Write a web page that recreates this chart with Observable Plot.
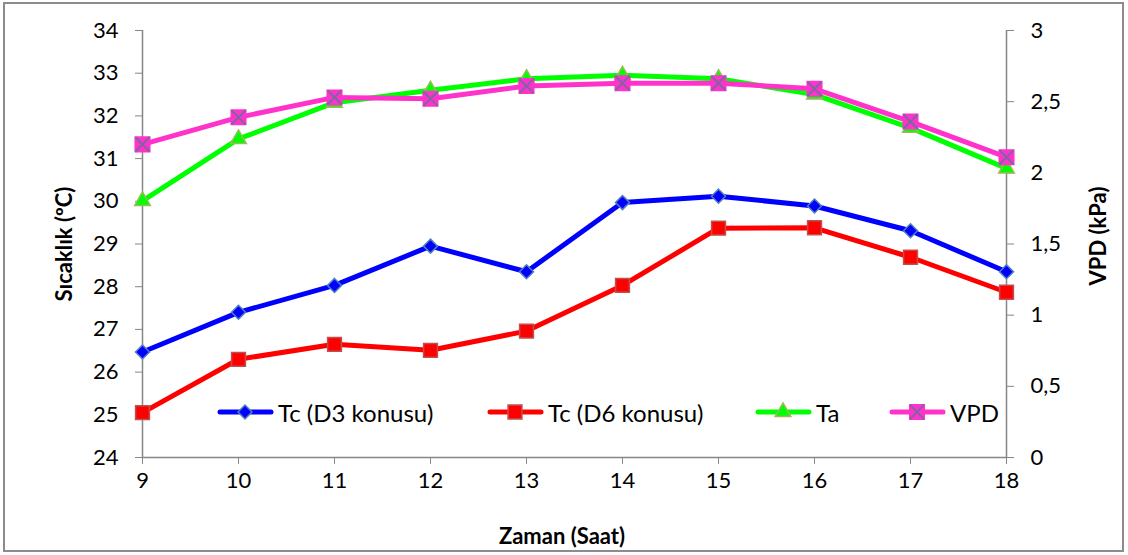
<!DOCTYPE html>
<html><head><meta charset="utf-8">
<script src="https://cdn.jsdelivr.net/npm/d3@7"></script>
<script src="https://cdn.jsdelivr.net/npm/@observablehq/plot@0.6"></script>
<style>
html,body{margin:0;padding:0;background:#fff;}
#wrap{position:relative;width:1128px;height:555px;font-family:Lato,"Open Sans",sans-serif;color:#000;}
#border{position:absolute;left:3px;top:2px;width:1121px;height:550px;border:2px solid #8c8c8c;box-sizing:border-box;pointer-events:none;}
#chart{position:absolute;left:0;top:0;}
.title{position:absolute;font-weight:bold;font-size:22px;white-space:nowrap;}
#legend{position:absolute;left:0;top:399px;width:1128px;height:26px;font-size:24px;}
.item{position:absolute;top:0;display:flex;align-items:center;height:26px;}
.item svg{display:block;margin-right:4px;}
</style>
</head><body>
<div id="wrap">
  <div id="chart"></div>
  <div id="border"></div>
  <div class="title" id="xt" style="left:562px;top:535px;transform:translate(-50%,-50%);">Zaman (Saat)</div>
  <div class="title" id="yl" style="left:63px;top:244px;transform:translate(-50%,-50%) rotate(-90deg);">Sıcaklık (ºC)</div>
  <div class="title" id="yr" style="left:1097px;top:236px;transform:translate(-50%,-50%) rotate(-90deg);">VPD (kPa)</div>
  <div id="legend"></div>
</div>
<script>
// ---- data ----
const hours = [9, 10, 11, 12, 13, 14, 15, 16, 17, 18];
const tcD3 = [26.47, 27.40, 28.03, 28.95, 28.35, 29.97, 30.12, 29.89, 29.31, 28.35];
const tcD6 = [25.05, 26.30, 26.65, 26.51, 26.96, 28.03, 29.37, 29.38, 28.69, 27.87];
const ta   = [30.01, 31.46, 32.31, 32.60, 32.87, 32.95, 32.87, 32.50, 31.72, 30.77];
const vpd  = [2.20, 2.39, 2.53, 2.52, 2.61, 2.63, 2.63, 2.59, 2.36, 2.11];
const leftTicks = [24, 25, 26, 27, 28, 29, 30, 31, 32, 33, 34];
const rightTicks = [0, 0.5, 1, 1.5, 2, 2.5, 3];
const seriesNames = ["Tc (D3 konusu)", "Tc (D6 konusu)", "Ta", "VPD"];

// secondary axis (0–3 kPa) mapped onto the primary (24–34 °C)
const toLeft = v => 24 + v * 10 / 3;
const fmtRight = d => String(+((d - 24) * 0.3).toFixed(1)).replace(".", ",");

const rows = (vals, f = d => d) => hours.map((h, i) => ({h, v: f(vals[i])}));
const dD3 = rows(tcD3), dD6 = rows(tcD6), dTa = rows(ta), dV = rows(vpd, toLeft);

const styles = [
  {line: "#0000ff", fill: "#0000ff", stroke: "#4f81bd", symbol: "diamond2", r: 6.3},
  {line: "#ff0000", fill: "#ff0000", stroke: "#c0504d", symbol: "square", r: 7.8},
  {line: "#00ff00", fill: "#00ff00", stroke: "#9bbb59", symbol: "triangle", r: 5.8},
  {line: "#ff33cc", fill: "#ff33cc", stroke: "#ff33cc", symbol: "square", r: 8.2, x: "#8064a2"}
];
const data = [dD3, dD6, dTa, dV];

const axisGray = "#868686";
const marks = [
  Plot.ruleY([24], {stroke: axisGray, strokeWidth: 1.5}),
  Plot.ruleX([9], {stroke: axisGray, strokeWidth: 1.5}),
  Plot.ruleX([18], {stroke: axisGray, strokeWidth: 1.5}),
  Plot.axisX({ticks: hours, tickSize: 7, tickPadding: 8, stroke: axisGray, fill: "#000", label: null, fontSize: 22, tickFormat: d => String(d)}),
  Plot.axisY({ticks: leftTicks, tickSize: 7, tickPadding: 17, stroke: axisGray, fill: "#000", label: null, fontSize: 22, tickFormat: d => String(d)}),
  Plot.axisY({anchor: "right", ticks: rightTicks.map(toLeft), tickSize: 7, tickPadding: 17, stroke: axisGray, fill: "#000", label: null, fontSize: 22, tickFormat: fmtRight})
];
data.forEach((d, i) => {
  const s = styles[i];
  marks.push(Plot.line(d, {x: "h", y: "v", stroke: s.line, strokeWidth: 5, strokeLinejoin: "round", strokeLinecap: "round"}));
  marks.push(Plot.dot(d, {x: "h", y: "v", symbol: s.symbol, r: s.r, fill: s.fill, stroke: s.stroke, strokeWidth: 1.5}));
  if (s.x) marks.push(Plot.dot(d, {x: "h", y: "v", symbol: "times", r: 6.5, stroke: s.x, strokeWidth: 2}));
});

const chart = Plot.plot({
  width: 1128, height: 555,
  marginLeft: 142, marginRight: 122, marginTop: 30, marginBottom: 98,
  style: {fontFamily: "Lato, 'Open Sans', sans-serif", fontSize: "22px", color: "#000", background: "transparent", overflow: "visible"},
  x: {domain: [9, 18]},
  y: {domain: [24, 34]},
  marks
});
document.getElementById("chart").appendChild(chart);

// ---- legend ----
const legendLefts = [217, 487, 755, 889];
const legend = document.getElementById("legend");
seriesNames.forEach((name, i) => {
  const s = styles[i];
  const item = document.createElement("div");
  item.className = "item";
  item.style.left = legendLefts[i] + "px";
  const ns = "http://www.w3.org/2000/svg";
  const svg = document.createElementNS(ns, "svg");
  svg.setAttribute("width", 57); svg.setAttribute("height", 24);
  const ln = document.createElementNS(ns, "line");
  ln.setAttribute("x1", 3); ln.setAttribute("x2", 54); ln.setAttribute("y1", 12); ln.setAttribute("y2", 12);
  ln.setAttribute("stroke", s.line); ln.setAttribute("stroke-width", 5); ln.setAttribute("stroke-linecap", "round");
  svg.appendChild(ln);
  const symMap = {diamond2: d3.symbolDiamond2, square: d3.symbolSquare, triangle: d3.symbolTriangle};
  const p = document.createElementNS(ns, "path");
  p.setAttribute("d", d3.symbol(symMap[s.symbol], Math.PI * s.r * s.r)());
  p.setAttribute("transform", "translate(28,12)");
  p.setAttribute("fill", s.fill); p.setAttribute("stroke", s.stroke); p.setAttribute("stroke-width", 1.5);
  svg.appendChild(p);
  if (s.x) {
    const px = document.createElementNS(ns, "path");
    px.setAttribute("d", d3.symbol(d3.symbolTimes, Math.PI * 6.5 * 6.5)());
    px.setAttribute("transform", "translate(28,12)");
    px.setAttribute("fill", "none"); px.setAttribute("stroke", s.x); px.setAttribute("stroke-width", 2);
    svg.appendChild(px);
  }
  item.appendChild(svg);
  const t = document.createElement("span");
  t.textContent = name;
  item.appendChild(t);
  legend.appendChild(item);
});
</script>
</body></html>
